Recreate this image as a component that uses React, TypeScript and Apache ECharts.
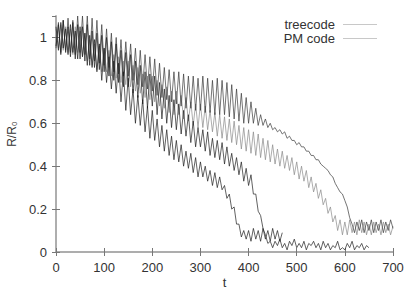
import React, { useEffect, useRef } from "react";
import * as echarts from "echarts";

const T_STEP = 5;

const treeA = [
  1.05, 0.94, 1.07, 0.95, 1.04, 0.92, 1.06, 0.93, 1.03, 0.90, 1.05, 0.91, 1.02, 0.87, 1.01, 0.86, 0.99, 0.84, 0.97, 0.80,
  0.95, 0.79, 0.91, 0.76, 0.89, 0.74, 0.88, 0.70, 0.84, 0.66, 0.81, 0.64, 0.76, 0.60, 0.73, 0.59, 0.71, 0.56, 0.68, 0.53,
  0.66, 0.52, 0.62, 0.49, 0.59, 0.47, 0.57, 0.45, 0.54, 0.43, 0.52, 0.42, 0.50, 0.40, 0.47, 0.39, 0.46, 0.37, 0.44, 0.35,
  0.42, 0.35, 0.40, 0.33, 0.38, 0.31, 0.37, 0.30, 0.35, 0.29, 0.31, 0.25, 0.27, 0.20, 0.21, 0.13, 0.13, 0.07, 0.10, 0.06,
  0.10, 0.05, 0.11, 0.06, 0.10, 0.05, 0.11, 0.06, 0.10, 0.05, 0.11, 0.06, 0.10, 0.05, 0.09,
];

const treeB = [
  0.96, 1.06, 0.92, 1.08, 0.93, 1.05, 0.91, 1.07, 0.90, 1.06, 0.90, 1.05, 0.89, 1.06, 0.87, 1.03, 0.86, 1.02, 0.85, 1.01,
  0.84, 1.00, 0.82, 0.98, 0.80, 0.97, 0.79, 0.94, 0.77, 0.93, 0.77, 0.92, 0.74, 0.89, 0.72, 0.87, 0.69, 0.84, 0.67, 0.83,
  0.68, 0.82, 0.64, 0.79, 0.62, 0.76, 0.60, 0.73, 0.58, 0.71, 0.57, 0.69, 0.55, 0.66, 0.54, 0.64, 0.51, 0.61, 0.49, 0.58,
  0.49, 0.57, 0.47, 0.56, 0.45, 0.53, 0.44, 0.52, 0.43, 0.51, 0.41, 0.49, 0.40, 0.46, 0.38, 0.44, 0.36, 0.42, 0.33, 0.39,
  0.31, 0.36, 0.27, 0.27, 0.19, 0.17, 0.11, 0.08, 0.04, 0.05, 0.02, 0.05, 0.03, 0.06, 0.02, 0.04, 0.01, 0.05, 0.03, 0.06,
  0.02, 0.04, 0.02, 0.05, 0.01, 0.04, 0.03, 0.05, 0.02, 0.04, 0.01, 0.05, 0.02, 0.04, 0.01, 0.03, 0.02, 0.05, 0.01, 0.02,
  0.01, 0.04, 0.02, 0.05, 0.01, 0.03, 0.02, 0.04, 0.01, 0.03, 0.02,
];

const pmC = [
  1.04, 0.95, 1.06, 0.94, 1.05, 0.93, 1.04, 0.92, 1.05, 0.93, 1.03, 0.91, 1.02, 0.89, 0.99, 0.87, 0.97, 0.85, 0.96, 0.84,
  0.95, 0.84, 0.94, 0.82, 0.92, 0.81, 0.91, 0.79, 0.89, 0.78, 0.89, 0.77, 0.87, 0.75, 0.86, 0.74, 0.83, 0.72, 0.82, 0.71,
  0.82, 0.70, 0.80, 0.68, 0.78, 0.67, 0.77, 0.65, 0.75, 0.64, 0.75, 0.64, 0.73, 0.62, 0.72, 0.61, 0.70, 0.59, 0.69, 0.58,
  0.69, 0.58, 0.68, 0.57, 0.66, 0.56, 0.65, 0.54, 0.64, 0.53, 0.63, 0.52, 0.62, 0.51, 0.61, 0.50, 0.59, 0.48, 0.58, 0.47,
  0.57, 0.46, 0.56, 0.45, 0.55, 0.44, 0.53, 0.43, 0.52, 0.42, 0.50, 0.41, 0.48, 0.40, 0.47, 0.39, 0.45, 0.38, 0.44, 0.36,
  0.42, 0.34, 0.40, 0.33, 0.38, 0.30, 0.35, 0.28, 0.32, 0.25, 0.29, 0.22, 0.25, 0.18, 0.21, 0.14, 0.17, 0.10, 0.15, 0.08,
  0.14, 0.08, 0.15, 0.09, 0.14, 0.08, 0.15, 0.09, 0.14, 0.08, 0.13, 0.08, 0.14, 0.09, 0.13, 0.08, 0.14, 0.09, 0.13, 0.08,
  0.12,
];

const pmD = [
  0.95, 1.07, 0.93, 1.08, 0.94, 1.09, 0.93, 1.08, 0.92, 1.10, 0.93, 1.10, 0.92, 1.10, 0.90, 1.09, 0.89, 1.08, 0.88, 1.06,
  0.87, 1.04, 0.86, 1.02, 0.84, 1.00, 0.83, 0.99, 0.82, 0.98, 0.82, 0.97, 0.80, 0.95, 0.78, 0.94, 0.77, 0.92, 0.76, 0.91,
  0.75, 0.90, 0.73, 0.88, 0.72, 0.86, 0.71, 0.85, 0.70, 0.84, 0.69, 0.84, 0.68, 0.83, 0.67, 0.82, 0.67, 0.82, 0.66, 0.81,
  0.66, 0.82, 0.65, 0.81, 0.65, 0.80, 0.64, 0.81, 0.64, 0.80, 0.64, 0.79, 0.63, 0.78, 0.62, 0.76, 0.61, 0.74, 0.60, 0.72,
  0.60, 0.70, 0.60, 0.67, 0.59, 0.64, 0.59, 0.62, 0.58, 0.60, 0.57, 0.58, 0.56, 0.57, 0.55, 0.56, 0.53, 0.54, 0.52, 0.52,
  0.50, 0.51, 0.49, 0.49, 0.47, 0.47, 0.45, 0.45, 0.43, 0.43, 0.41, 0.40, 0.39, 0.38, 0.36, 0.35, 0.32, 0.30, 0.28, 0.27,
  0.24, 0.21, 0.16, 0.13, 0.09, 0.14, 0.10, 0.15, 0.09, 0.14, 0.10, 0.15, 0.09, 0.14, 0.10, 0.15, 0.09, 0.14, 0.10, 0.15,
  0.11,
];

const xTicks = [0, 100, 200, 300, 400, 500, 600, 700];
const legendNames = ["treecode", "PM code"];

const toPoints = (vals: number[]) => vals.map((v, i) => [i * T_STEP, v]);

const FONT = "Liberation Sans";

export default function App() {
  const ref = useRef<HTMLDivElement>(null);
  useEffect(() => {
    if (!ref.current) return;
    const chart = echarts.init(ref.current, null, { renderer: "svg" });
    const axisLine = { show: true, lineStyle: { color: "#a8a8a8", width: 1.5 } };
    const axisTick = { show: true, inside: true, length: 4, lineStyle: { color: "#777", width: 1 } };
    const label = { color: "#333", fontFamily: FONT, fontSize: 13 };
    const mkSeries = (name: string, vals: number[], color: string, width: number, z: number) => ({
      name,
      type: "line",
      data: toPoints(vals),
      showSymbol: false,
      symbol: "none",
      lineStyle: { color, width },
      itemStyle: { color: "#c8c8c8" },
      z,
    });
    chart.setOption({
      animation: false,
      grid: { left: 56, right: 22, top: 16, bottom: 39, containLabel: false, outerBoundsMode: "none" },
      legend: {
        data: legendNames.map((n) => ({ name: n, icon: "rect", itemStyle: { color: "#c8c8c8" } })),
        orient: "vertical",
        right: 38,
        top: 18,
        padding: 0,
        align: "right",
        itemWidth: 34,
        itemHeight: 1,
        itemGap: 1,
        textStyle: { color: "#333", fontFamily: FONT, fontSize: 13, padding: [0, 3, 0, 0] },
      },
      xAxis: [
        {
          type: "value",
          min: 0,
          max: 700,
          interval: 100,
          position: "bottom",
          name: "t",
          nameLocation: "middle",
          nameGap: 24,
          nameMoveOverlap: false,
          nameTextStyle: { color: "#333", fontFamily: FONT, fontSize: 13 },
          axisLine,
          axisTick,
          axisLabel: { ...label, margin: 9, formatter: (v: number) => (xTicks.includes(v) ? String(v) : "") },
          splitLine: { show: false },
        },
        {
          type: "value",
          min: 0,
          max: 700,
          interval: 100,
          position: "top",
          axisLine,
          axisTick,
          axisLabel: { show: false },
          splitLine: { show: false },
        },
      ],
      yAxis: [
        {
          type: "value",
          min: 0,
          max: 1.1,
          interval: 0.2,
          position: "left",
          name: "R/R₀",
          nameLocation: "middle",
          nameGap: 38,
          nameMoveOverlap: false,
          nameTextStyle: { color: "#333", fontFamily: FONT, fontSize: 12 },
          axisLine,
          axisTick,
          axisLabel: { ...label, margin: 9, showMaxLabel: false, formatter: (v: number) => (v > 1.05 ? "" : String(Math.round(v * 10) / 10)) },
          splitLine: { show: false },
        },
        {
          type: "value",
          min: 0,
          max: 1.1,
          interval: 0.2,
          position: "right",
          axisLine,
          axisTick,
          axisLabel: { show: false },
          splitLine: { show: false },
        },
      ],
      series: [
        mkSeries("PM code", pmC, "#8a8a8a", 0.7, 1),
        mkSeries("PM code", pmD, "#3a3a3a", 0.7, 2),
        mkSeries("treecode", treeB, "#1e1e1e", 0.7, 3),
        mkSeries("treecode", treeA, "#1e1e1e", 0.7, 4),
      ],
    });
    return () => chart.dispose();
  }, []);
  return <div ref={ref} style={{ position: "fixed", left: 0, top: 0, width: 415, height: 291, background: "#fff" }} />;
}
